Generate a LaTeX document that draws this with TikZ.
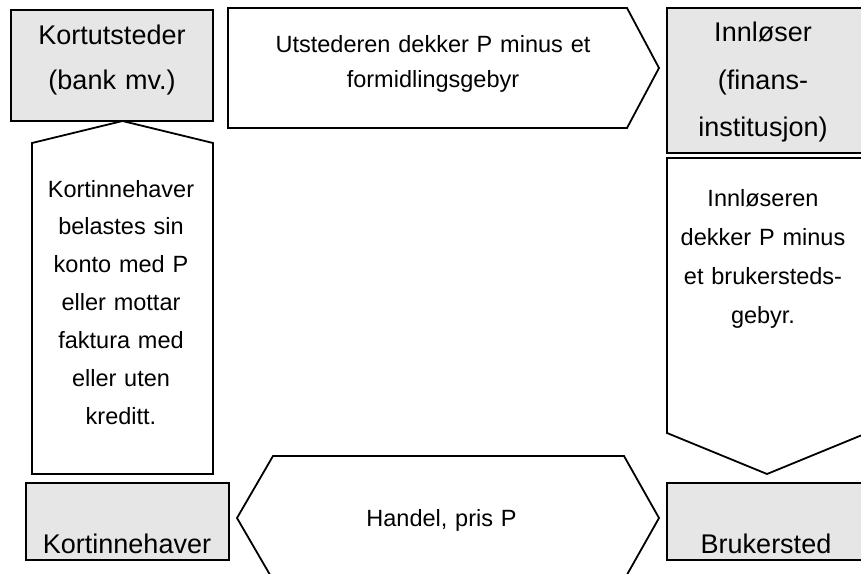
\documentclass[tikz,border=0pt]{standalone}
\usepackage{fontspec}
\setmainfont{Liberation Sans}
\usetikzlibrary{positioning}
\definecolor{boksgraa}{RGB}{230,230,230}

\begin{document}
\begin{tikzpicture}[x=0.5pt,y=-0.5pt,line join=miter,
 boks/.style={draw=black,fill=boksgraa,line width=0.9pt},
 pil/.style={draw=black,fill=white,line width=0.9pt},
 stor/.style={font=\fontsize{13.5}{#1}\selectfont,text width=110pt,
  align=center,inner sep=0pt,anchor=base},
 liten/.style={font=\fontsize{11.75}{#1}\selectfont,text width=110pt,
  align=center,inner sep=0pt,anchor=base}]
 \useasboundingbox (0,0) rectangle (861,573);
 \clip (0,0) rectangle (861,573);
 % Aktørene: fire grå bokser i hjørnene.
 \foreach \xa/\ya/\xb/\yb in {11/10/213/121,667/8/867/153,
   26/483/229/560,667/483/867/560}
  \draw[boks] (\xa,\ya) rectangle (\xb,\yb);
 \node[stor=22.35pt] (utsteder) at (112,44.3)
  {Kortutsteder\\(bank mv.)};
 \node[stor=23.75pt] (innloser) at (763,41.7)
  {Innløser\\(finans-\\institusjon)};
 \node[stor=20pt] (kortinnehaver) at (127,553) {Kortinnehaver};
 \node[stor=20pt] (brukersted) at (766,553) {Brukersted};
 % Pilen øverst, mot innløser.
 \draw[pil] (228,8) -- (627,8) -- (659,68) -- (627,128)
  -- (228,128) -- cycle;
 \node[liten=17.7pt,text width=200pt] (formidling) at (433,52)
  {Utstederen dekker P minus et\\formidlingsgebyr};
 % Pilen til høyre, ned mot brukerstedet.
 \draw[pil] (667,158) -- (867,158) -- (867,433) -- (767,474)
  -- (667,433) -- cycle;
 \node[liten=19.6pt] (gebyr) at (763,206)
  {Innløseren\\dekker P minus\\et brukersteds-\\gebyr.};
 % Pilen til venstre, opp mot utstederen.
 \draw[pil] (32,474) -- (32,143) -- (122.5,121) -- (213,143)
  -- (213,474) -- cycle;
 \node[liten=18.95pt] (belastning) at (121,197)
  {Kortinnehaver\\belastes sin\\konto med P\\eller mottar\\faktura med\\eller uten\\kreditt.};
 % Dobbeltpilen nederst: handelen.
 \draw[pil] (237,518) -- (273,456) -- (624,456) -- (659,518)
  -- (624,580) -- (273,580) -- cycle;
 \node[liten=18pt] (handel) at (441.5,526) {Handel, pris P};
\end{tikzpicture}
\end{document}
